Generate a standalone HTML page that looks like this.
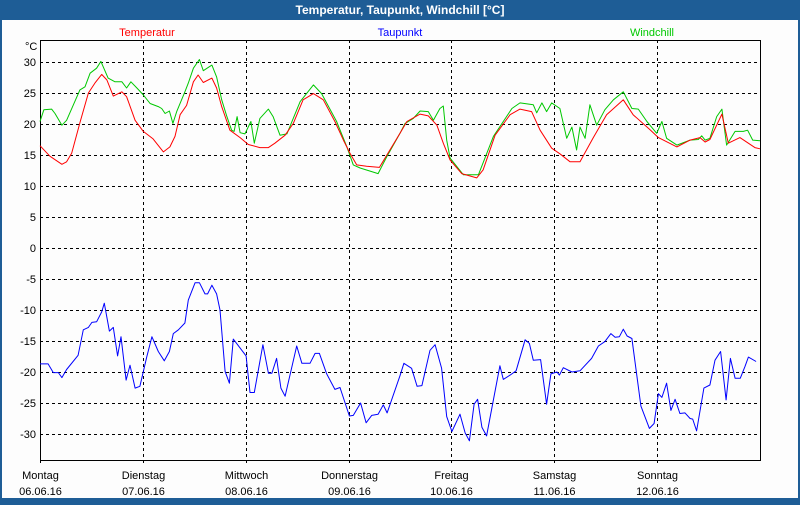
<!DOCTYPE html>
<html><head><meta charset="utf-8"><style>
html,body{margin:0;padding:0;}
body{width:800px;height:500px;overflow:hidden;background:#1e5d96;font-family:"Liberation Sans",sans-serif;}
#win{position:absolute;left:0;top:0;width:800px;height:500px;}
</style></head><body>
<div id="win">
<svg id="chart" width="800" height="500" xmlns="http://www.w3.org/2000/svg"></svg>
</div>
<script>
const dayNames=["Montag","Dienstag","Mittwoch","Donnerstag","Freitag","Samstag","Sonntag"];
const dayDates=["06.06.16","07.06.16","08.06.16","09.06.16","10.06.16","11.06.16","12.06.16"];
const yTicks=[30,25,20,15,10,5,0,-5,-10,-15,-20,-25,-30];
const tempHours=[0,2.3,5.1,6.2,7.4,9.3,11.3,12.8,14.4,15.6,17.1,19.1,20.2,22.2,24.1,26.4,28.8,30.3,31.5,32.7,34.2,35.8,36.9,38.1,40.1,41.2,42.4,44.3,46.7,48.6,51.3,53.3,54.8,57.2,59.1,61.4,63.8,66.1,68.8,70.8,72.3,73.9,76.2,79.2,80.5,84,85.6,88.7,90.6,92.6,94.1,95.7,98.4,101.9,103.4,106.2,109.7,112,114.7,116.7,119.4,121.3,123.7,126,129.1,132.2,136.1,138.4,142.3,144.3,148.6,151.7,154,155.2,156.3,159.1,160.6,163.3,166.8,168];
const tempValues=[16.5,14.8,13.5,13.9,15.3,20.2,25,26.6,28,27.1,24.5,25.2,24.4,20.6,18.8,17.6,15.5,16.3,18,21.5,23,26.8,27.9,26.7,27.4,25.8,22.8,19,17.8,16.7,16.2,16.2,16.9,18.2,20.1,23.9,24.9,23.9,20.4,17.4,15.3,13.4,13.2,13,14.5,18.5,20.4,21.6,21.3,19.8,16.9,14.2,12,11.3,12.6,18.2,21.5,22.4,22,19,16.1,15.2,13.9,13.9,17.8,21.5,23.9,21.5,19.1,17.8,16.3,17.4,17.8,17.1,17.5,21.6,16.9,17.8,16.2,16];
const windHours=[0,0.9,2.7,3.5,5.1,6.2,9.3,10.5,11.7,13.2,14.2,15.9,17.5,19.1,20.2,21.2,22.6,24.1,25.7,27.6,28.4,29.2,30.2,31,31.9,33.8,34.6,35.8,37.2,38.1,40.1,41.2,42.4,43.6,44.7,45.3,46,46.7,47.8,49.2,50,51.3,53.3,54.4,56,57.6,60.7,63.8,65.7,69.2,71.6,73.1,74.7,78.9,80.9,84,85.2,87.1,88.7,90.6,91.8,93.3,94.1,94.9,95.7,98.8,102.3,105.8,110.1,112,115.1,115.9,117.1,118.2,119.4,121.3,122.9,124.1,125.2,126,127.2,128.3,129.9,131.8,133.8,136.1,138.1,139.6,141.6,143.9,145.1,146.2,148.6,151.7,153.6,154.4,155.2,156.3,157.9,159.1,160.2,162.2,164.1,165.1,166.3,168];
const windValues=[20.4,22.3,22.4,21.7,19.8,20.6,25.5,26,28.2,29,30.1,27.4,26.8,26.8,25.8,26.8,25.8,24.7,23.3,22.8,22.5,21.7,22.1,20.1,22,25.2,26.6,29,30.4,28.6,29.5,27.6,23.9,21.2,19,18.8,21.2,18.6,18.4,20.4,16.9,20.9,22.4,21.2,18.2,18.4,23.6,26.3,24.9,20.4,16.3,13.4,12.9,12,14.7,18.5,20.1,20.9,22.1,22,20.6,22.5,22.9,17.4,14.5,11.8,11.8,18,22.5,23.4,23.1,21.8,23.4,22,23.4,22.5,17.7,19.5,15.8,19.5,17.7,23.1,19.8,22.3,23.9,25.2,22.5,22.4,20.4,18.5,20.4,17.7,16.6,17.4,17.5,18.1,17.4,17.7,21.2,22.4,16.6,18.8,18.8,19,17.4,17.3];
const dewHours=[0,1.9,3.1,4.3,5.1,6.2,8.9,10.1,11.3,12.1,13.2,14.4,15,16.2,17.1,18.1,18.9,20.1,21,22.2,23.3,24.9,26.1,27.6,29,30.2,31.1,32.3,33.8,34.6,36.2,37.2,38.5,39.1,40.1,41.2,42,43.2,44.2,45.1,48.1,49,50,52,53.3,54.1,55.2,56.2,57.2,59.9,61.1,63,64.2,65.2,66.9,68.8,70,72.2,73.1,74.8,76.1,77.4,78.9,80.1,81,84,84.9,86.7,88,89.1,91,92.2,93.7,94.9,96.1,98,99.2,100.2,101.3,102.1,103.1,104.2,105.8,107.3,108.1,109.7,111.1,113.2,114.2,115.1,116.8,118.2,119.2,120.6,121.2,122.1,124.1,126,128.7,130.3,131.8,133.2,134.2,135.2,136.1,137,138.1,140.2,142.2,143.3,144.3,145.1,146.2,147.2,148.2,149.3,150.5,151.7,152.3,153.2,154.9,156.3,157.5,158.8,160.1,161.1,162.2,163.4,164.5,165.3,167.1];
const dewValues=[-18.7,-18.7,-20.1,-20.1,-20.9,-19.6,-17.3,-13.2,-12.8,-12,-11.9,-10.3,-8.9,-13.4,-12.8,-17.4,-14.3,-21.3,-18.9,-22.6,-22.3,-17.6,-14.3,-16.7,-18.2,-16.7,-13.8,-13.2,-12.1,-8.4,-5.6,-5.6,-7.4,-7.4,-6,-7.4,-10,-19.9,-21.8,-14.7,-17.4,-23.3,-23.3,-15.6,-20.2,-20.2,-17.8,-22.6,-23.9,-15.8,-18.6,-18.6,-17,-17,-20.3,-22.8,-22.5,-27.1,-27,-25,-28.2,-27,-26.8,-25.3,-26.6,-20.6,-18.6,-19.4,-22.3,-22.2,-16.5,-15.6,-19.4,-27.2,-29.6,-26.8,-29.8,-31.1,-25.2,-24.4,-28.9,-30.3,-24.5,-19,-21.2,-20.5,-19.8,-14.8,-15.4,-18.1,-18,-25.2,-20.3,-20,-20.5,-19.3,-20,-19.8,-17.8,-15.8,-15.1,-13.8,-14.4,-14.3,-13.1,-14.2,-14.6,-25.5,-29.1,-28.3,-23.5,-24.1,-21.8,-26.2,-24.4,-26.7,-26.6,-27.5,-27.6,-29.5,-22.6,-22.1,-18.1,-16.7,-24.5,-17.8,-21,-21,-19.1,-17.6,-18.3];

const svg=document.getElementById('chart');
const NS='http://www.w3.org/2000/svg';
const L=40,R=760,T=40,B=460;
function xOf(h){return L+h*(R-L)/168;}
function yOf(v){return 248-v*6.2;}
function mk(tag,attrs,parent){const e=document.createElementNS(NS,tag);for(const k in attrs)e.setAttribute(k,attrs[k]);(parent||svg).appendChild(e);return e;}

let e;
e=mk('rect',{x:2,y:20,width:796,height:478,fill:'#fdfdfd'});


e=mk('text',{x:400,y:14,'text-anchor':'middle','font-size':'12','font-weight':'bold',fill:'#ffffff'});
e.textContent='Temperatur, Taupunkt, Windchill [°C]';



yTicks.forEach(v=>{
  const y=yOf(v)+0.5;
  const g=mk('line',{x1:L,x2:R,y1:y,y2:y,stroke:'#000','stroke-width':1,'stroke-dasharray':'3,3'});
  
  
  const t=mk('text',{x:36,y:yOf(v)+4,'text-anchor':'end','font-size':'11',fill:'#000'});
  t.textContent=String(v);
  
  
});
dayNames.forEach((d,i)=>{
  const x=Math.round(xOf(i*24))+0.5;
  if(i>0){
    const g=mk('line',{x1:x,x2:x,y1:T,y2:B+3,stroke:'#000','stroke-width':1,'stroke-dasharray':'3,3'});
    
    
  }
  const t=mk('text',{x:x,y:479,'text-anchor':'middle','font-size':'11',fill:'#000'});
  t.textContent=d;
  
  
  const t2=mk('text',{x:x,y:495,'text-anchor':'middle','font-size':'11',fill:'#000'});
  t2.textContent=dayDates[i];
  
  
});
e=mk('rect',{x:L+0.5,y:T+0.5,width:R-L,height:B-T,fill:'none',stroke:'#000','stroke-width':1});


e=mk('line',{x1:L+0.5,x2:L+0.5,y1:B,y2:B+3,stroke:'#000'});


e=mk('text',{x:25,y:50,'font-size':'11',fill:'#000'});
e.textContent='°C';



function series(hours,vals,color,name){
  const pts=hours.map((h,i)=>xOf(h).toFixed(1)+','+yOf(vals[i]).toFixed(1)).join(' ');
  const p=mk('polyline',{points:pts,fill:'none',stroke:color,'stroke-width':1,'stroke-linejoin':'round'});
  
  
}
series(windHours,windValues,'#00c800','windchill-line');
series(tempHours,tempValues,'#ff0000','temperature-line');
series(dewHours,dewValues,'#0000ff','dewpoint-line');

[['Temperatur',147,'#ff0000','legend-temperatur'],['Taupunkt',400,'#0000ff','legend-taupunkt'],['Windchill',652,'#00c800','legend-windchill']].forEach(a=>{
  const t=mk('text',{x:a[1],y:36,'text-anchor':'middle','font-size':'11',fill:a[2]});
  t.textContent=a[0];
  
  
});
</script>
</body></html>
